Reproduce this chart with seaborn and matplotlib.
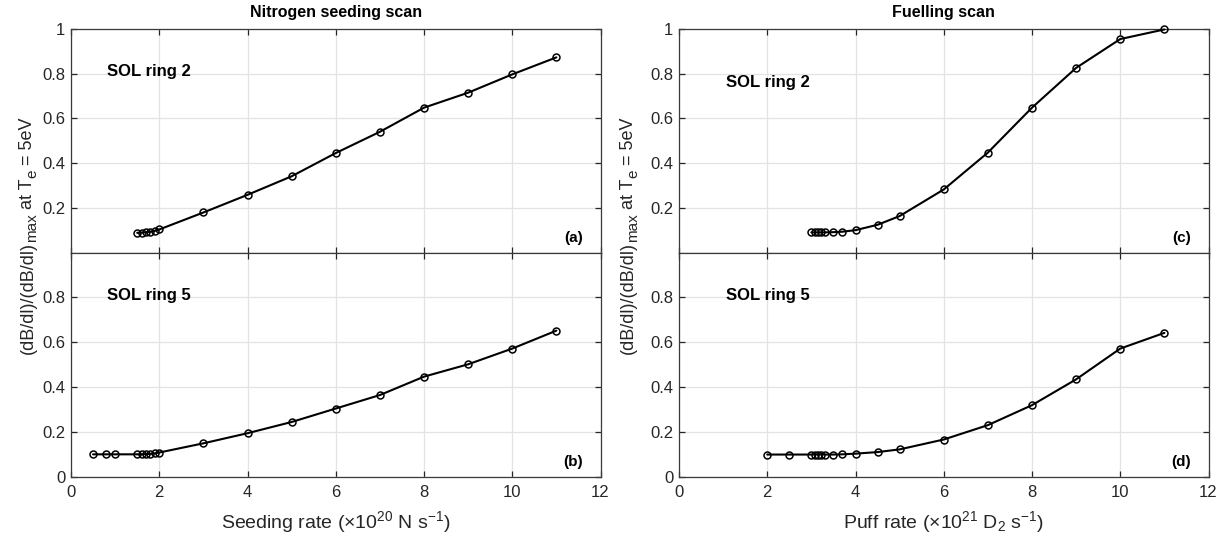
import numpy as np
import pandas as pd
import matplotlib
matplotlib.use("Agg")
import matplotlib.pyplot as plt
from matplotlib.transforms import IdentityTransform
import seaborn as sns

# ---- data ----
seed_x_a = [1.5, 1.6, 1.7, 1.8, 1.9, 2.0, 3, 4, 5, 6, 7, 8, 9, 10, 11]
seed_y_a = [0.088, 0.089, 0.090, 0.093, 0.097, 0.103, 0.179, 0.258, 0.341, 0.445, 0.540, 0.648, 0.715, 0.797, 0.873]
seed_x_b = [0.5, 0.8, 1.0, 1.5, 1.6, 1.7, 1.8, 1.9, 2.0, 3, 4, 5, 6, 7, 8, 9, 10, 11]
seed_y_b = [0.101, 0.101, 0.101, 0.101, 0.101, 0.102, 0.103, 0.105, 0.109, 0.150, 0.195, 0.245, 0.305, 0.365, 0.447, 0.502, 0.572, 0.652]
puff_x_c = [3.0, 3.075, 3.15, 3.225, 3.3, 3.5, 3.7, 4.0, 4.5, 5, 6, 7, 8, 9, 10, 11]
puff_y_c = [0.090, 0.090, 0.090, 0.090, 0.090, 0.091, 0.093, 0.100, 0.124, 0.163, 0.282, 0.447, 0.648, 0.826, 0.955, 0.998]
puff_x_d = [2.0, 2.5, 3.0, 3.075, 3.15, 3.225, 3.3, 3.5, 3.7, 4.0, 4.5, 5, 6, 7, 8, 9, 10, 11]
puff_y_d = [0.100, 0.100, 0.100, 0.100, 0.100, 0.100, 0.100, 0.100, 0.101, 0.104, 0.111, 0.123, 0.167, 0.231, 0.320, 0.435, 0.572, 0.642]

titles = ["Nitrogen seeding scan", "Fuelling scan"]
ring_labels = ["SOL ring 2", "SOL ring 5"]
panel_labels = [["(a)", "(b)"], ["(c)", "(d)"]]
xlabels = [r"Seeding rate ($\times$10$^{20}$ N s$^{-1}$)",
           r"Puff rate ($\times$10$^{21}$ D$_2$ s$^{-1}$)"]
# y label pieces: (text, is_subscript)
ylabel_parts = [("(dB/dl)/(dB/dl)", False), ("max", True), ("at T", False),
                ("e", True), ("= 5eV", False)]

sns.set_theme(style="whitegrid")
plt.rcParams["font.family"] = ["Liberation Sans", "DejaVu Sans"]
plt.rcParams["mathtext.fontset"] = "custom"
plt.rcParams["mathtext.rm"] = "Liberation Sans"
plt.rcParams["mathtext.it"] = "Liberation Sans:italic"
plt.rcParams["mathtext.bf"] = "Liberation Sans:bold"
plt.rcParams["mathtext.default"] = "regular"

fig = plt.figure(figsize=(12.27, 5.45), dpi=100)
W, H = 1227, 545
lefts = [71 / W, 679 / W]
width = 529.5 / W
top_y = 1 - 29 / H
mid_y = 1 - 252.5 / H
bot_y = 1 - 477 / H

data = [[(seed_x_a, seed_y_a), (seed_x_b, seed_y_b)],
        [(puff_x_c, puff_y_c), (puff_x_d, puff_y_d)]]

tick_col = "#262626"
for c in range(2):
    for r in range(2):
        if r == 0:
            ax = fig.add_axes([lefts[c], mid_y, width, top_y - mid_y])
        else:
            ax = fig.add_axes([lefts[c], bot_y, width, mid_y - bot_y])
        xs, ys = data[c][r]
        df = pd.DataFrame({"x": xs, "y": ys})
        sns.lineplot(data=df, x="x", y="y", ax=ax, color="black", lw=1.5,
                     marker="o", markersize=5, markerfacecolor="none",
                     markeredgecolor="black", markeredgewidth=1.1,
                     sort=False, estimator=None, clip_on=False, zorder=5)
        ax.set_xlim(0, 12)
        ax.set_ylim(0, 1)
        ax.set_xticks(np.arange(0, 13, 2))
        ax.set_ylabel("")
        if r == 0:
            ax.set_yticks([0.2, 0.4, 0.6, 0.8, 1.0])
            ax.set_yticklabels(["0.2", "0.4", "0.6", "0.8", "1"])
            ax.set_xticklabels([])
            ax.set_xlabel("")
            ax.set_title(titles[c], fontsize=11.5, fontweight="bold", pad=9, color="black")
        else:
            ax.set_yticks([0, 0.2, 0.4, 0.6, 0.8])
            ax.set_yticklabels(["0", "0.2", "0.4", "0.6", "0.8"])
            ax.set_xticklabels([str(v) for v in range(0, 13, 2)])
            ax.set_xlabel(xlabels[c], fontsize=14, color=tick_col, labelpad=6)
        ax.grid(True, color="#e3e3e3", lw=0.9)
        ax.tick_params(axis="both", direction="in", length=4, width=0.9,
                       labelsize=12, colors=tick_col, top=True, right=True,
                       bottom=True, left=True, pad=4)
        ax.tick_params(axis="x", pad=6)
        for s in ax.spines.values():
            s.set_color("#3a3a3a")
            s.set_linewidth(0.9)
            s.set_visible(True)
        fx = 0.068 if c == 0 else 0.089
        fy = 0.81 if (r == 1 or c == 0) else 0.76
        ax.text(fx, fy, ring_labels[r], transform=ax.transAxes, fontsize=12,
                fontweight="bold", ha="left", va="center", color="black")
        ax.text(0.967, 0.067, panel_labels[c][r], transform=ax.transAxes,
                fontsize=11, fontweight="bold", ha="right", va="center", color="black")

# ---- rotated y labels assembled from pieces (larger subscripts) ----
renderer = fig.canvas.get_renderer()
main_fs, sub_fs = 13, 11
sub_shift = 4.0     # px to the right (below baseline in text frame)
gap = 4.0           # px word spacing
for c in range(2):
    base_x = (32.5 if c == 0 else 633)
    texts = []
    for t, is_sub in ylabel_parts:
        txt = fig.text(0, 0, t, rotation=90, rotation_mode="anchor",
                       ha="left", va="baseline", fontsize=sub_fs if is_sub else main_fs,
                       color=tick_col, transform=IdentityTransform())
        texts.append((txt, is_sub))
    lengths = [tx.get_window_extent(renderer).height for tx, _ in texts]
    gaps = []
    for i in range(len(texts) - 1):
        gaps.append(gap if not texts[i + 1][1] else 0.5)
    total = sum(lengths) + sum(gaps)
    center_y = H - 236
    y = center_y - total / 2
    for i, (tx, is_sub) in enumerate(texts):
        tx.set_position((base_x + (sub_shift if is_sub else 0), y))
        y += lengths[i] + (gaps[i] if i < len(gaps) else 0)

fig.savefig("out.png", dpi=100)
